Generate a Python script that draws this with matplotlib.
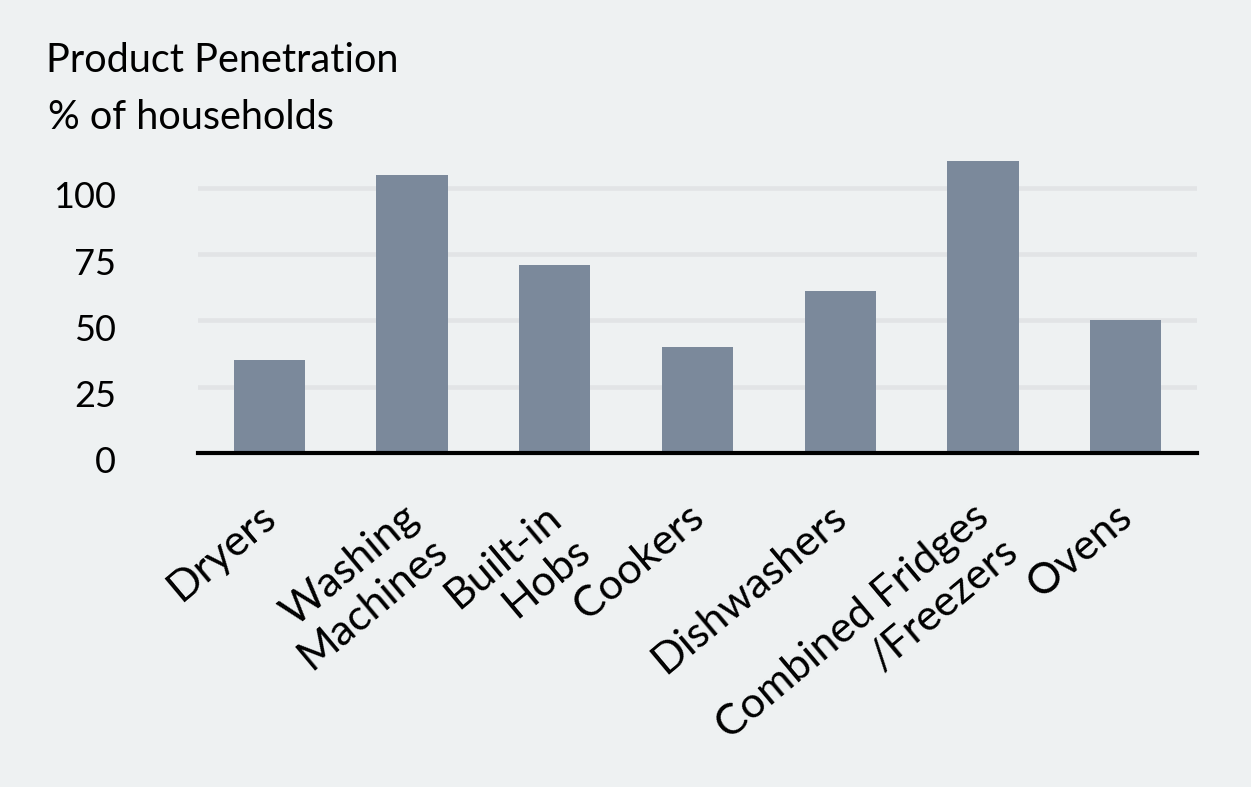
import matplotlib.pyplot as plt
import matplotlib.transforms as mtransforms

# Product penetration, % of households
products = ['Dryers', 'Washing\nMachines', 'Built-in\nHobs', 'Cookers',
            'Dishwashers', 'Combined Fridges\n/Freezers', 'Ovens']
penetration = [35, 105, 71, 40, 61, 110, 50]
yticks = [0, 25, 50, 75, 100]

bg = '#eef1f2'
bar_color = '#7b899b'

plt.rcParams['font.family'] = ['Lato', 'DejaVu Sans']

fig = plt.figure(figsize=(12.51, 7.87), dpi=100, facecolor=bg)
ax = fig.add_axes([0.1583, 0.4244, 0.7985, 0.3773])
ax.set_facecolor(bg)

ax.bar(range(len(products)), penetration, width=0.5, color=bar_color, zorder=3)
ax.set_xlim(-0.5, len(products) - 0.5)
ax.set_ylim(0, 112)

ax.set_yticks(yticks)
ax.yaxis.grid(True, color='#e2e4e6', linewidth=3.3, zorder=0)
ax.tick_params(axis='y', length=0, pad=59, labelsize=26)
for lab in ax.get_yticklabels():
    lab.set_transform(lab.get_transform() + mtransforms.ScaledTranslation(0, -5 / 72, fig.dpi_scale_trans))

ax.set_xticks(range(len(products)))
ax.set_xticklabels(products, rotation=40, ha='right', va='top',
                   rotation_mode='anchor', fontsize=31)
ax.tick_params(axis='x', length=0, pad=32)
for lab in ax.get_xticklabels():
    lab.set_transform(lab.get_transform() + mtransforms.ScaledTranslation(-8 / 72, 0, fig.dpi_scale_trans))

for side in ['top', 'right', 'left']:
    ax.spines[side].set_visible(False)
ax.spines['bottom'].set_linewidth(3)
ax.spines['bottom'].set_color('black')
ax.spines['bottom'].set_zorder(4)

fig.text(46 / 1251, 1 - 72 / 787, 'Product Penetration', fontsize=28.5, va='baseline')
fig.text(48 / 1251, 1 - 129 / 787, '% of households', fontsize=28.5, va='baseline')

fig.savefig('out.png', dpi=100, facecolor=bg)
